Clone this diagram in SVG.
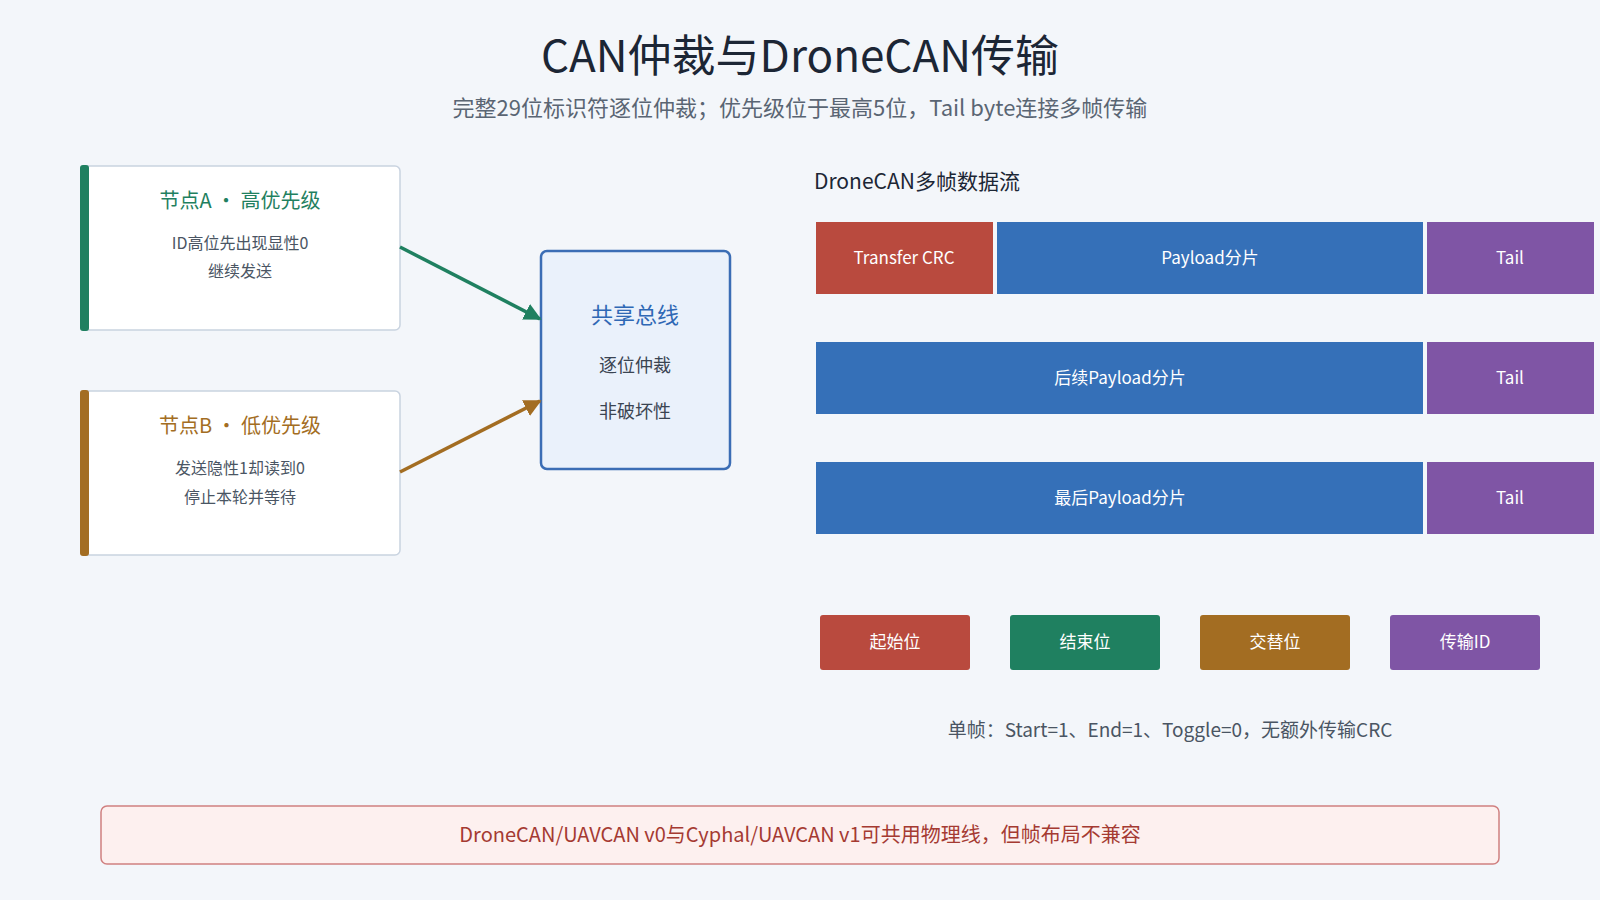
<svg xmlns="http://www.w3.org/2000/svg" width="1600" height="900" viewBox="0 0 1600 900">
<defs>
<style>
text{font-family:"Noto Sans CJK SC","Noto Sans",sans-serif;}
.card{fill:#fff;stroke:#c9d3e0;stroke-width:1.5}
.sm{font-size:16px;fill:#4a5563;text-anchor:middle}
.seg{font-size:17px;fill:#fff;text-anchor:middle}
</style>
<marker id="ag" viewBox="0 0 10 10" refX="9" refY="5" markerWidth="5" markerHeight="5" orient="auto"><path d="M0,0L10,5L0,10z" fill="#1f8060"/></marker>
<marker id="ab" viewBox="0 0 10 10" refX="9" refY="5" markerWidth="5" markerHeight="5" orient="auto"><path d="M0,0L10,5L0,10z" fill="#a36d22"/></marker>
</defs>
<rect width="1600" height="900" fill="#f3f6fa"/>
<text x="800" y="72" font-size="44" fill="#1c2635" text-anchor="middle">CAN仲裁与DroneCAN传输</text>
<text x="800" y="116" font-size="22" fill="#5a6573" text-anchor="middle">完整29位标识符逐位仲裁；优先级位于最高5位，Tail byte连接多帧传输</text>
<g id="nodeA"><rect class="card" x="82" y="166" width="318" height="164" rx="5"/><rect x="80" y="165" width="9" height="166" rx="3" fill="#1f8060"/>
<text x="240" y="208" font-size="20" fill="#1f8060" text-anchor="middle">节点A ·  高优先级</text>
<text class="sm" x="240" y="249">ID高位先出现显性0</text><text class="sm" x="240" y="277">继续发送</text></g>
<g id="nodeB"><rect class="card" x="82" y="391" width="318" height="164" rx="5"/><rect x="80" y="390" width="9" height="166" rx="3" fill="#a36d22"/>
<text x="240" y="433" font-size="20" fill="#a36d22" text-anchor="middle">节点B ·  低优先级</text>
<text class="sm" x="240" y="474">发送隐性1却读到0</text><text class="sm" x="240" y="503">停止本轮并等待</text></g>
<g id="bus"><rect x="541" y="251" width="189" height="218" rx="6" fill="#eaf1fb" stroke="#3b6db5" stroke-width="2.5"/>
<text x="635" y="323" font-size="22" fill="#2f68b5" text-anchor="middle">共享总线</text>
<text x="635" y="372" font-size="18" fill="#3a4452" text-anchor="middle">逐位仲裁</text>
<text x="635" y="418" font-size="18" fill="#3a4452" text-anchor="middle">非破坏性</text></g>
<g id="connectors">
<line x1="400" y1="247" x2="540" y2="319" stroke="#1f8060" stroke-width="3.5" marker-end="url(#ag)"/>
<line x1="400" y1="472" x2="540" y2="401" stroke="#a36d22" stroke-width="3.5" marker-end="url(#ab)"/>
</g>
<g id="frames">
<text x="814" y="189" font-size="21" fill="#1c2635">DroneCAN多帧数据流</text>
<rect x="816" y="222" width="177" height="72" fill="#b94a3e"/><text class="seg" x="904" y="264">Transfer CRC</text>
<rect x="997" y="222" width="426" height="72" fill="#3570b8"/><text class="seg" x="1210" y="264">Payload分片</text>
<rect x="1427" y="222" width="167" height="72" fill="#7f55a5"/><text class="seg" x="1510" y="264">Tail</text>
<rect x="816" y="342" width="607" height="72" fill="#3570b8"/><text class="seg" x="1120" y="384">后续Payload分片</text>
<rect x="1427" y="342" width="167" height="72" fill="#7f55a5"/><text class="seg" x="1510" y="384">Tail</text>
<rect x="816" y="462" width="607" height="72" fill="#3570b8"/><text class="seg" x="1120" y="504">最后Payload分片</text>
<rect x="1427" y="462" width="167" height="72" fill="#7f55a5"/><text class="seg" x="1510" y="504">Tail</text>
</g>
<g id="legend">
<rect x="820" y="615" width="150" height="55" rx="3" fill="#b94a3e"/><text class="seg" x="895" y="648">起始位</text>
<rect x="1010" y="615" width="150" height="55" rx="3" fill="#1f8060"/><text class="seg" x="1085" y="648">结束位</text>
<rect x="1200" y="615" width="150" height="55" rx="3" fill="#a36d22"/><text class="seg" x="1275" y="648">交替位</text>
<rect x="1390" y="615" width="150" height="55" rx="3" fill="#7f55a5"/><text class="seg" x="1465" y="648">传输ID</text>
<text x="1170" y="737" font-size="19" fill="#4a5563" text-anchor="middle">单帧：Start=1、End=1、Toggle=0，无额外传输CRC</text>
</g>
<g id="banner"><rect x="101" y="806" width="1398" height="58" rx="6" fill="#fdf0ef" stroke="#d08080" stroke-width="1.5"/>
<text x="800" y="842" font-size="20" fill="#a53a32" text-anchor="middle">DroneCAN/UAVCAN v0与Cyphal/UAVCAN v1可共用物理线，但帧布局不兼容</text></g>
</svg>
